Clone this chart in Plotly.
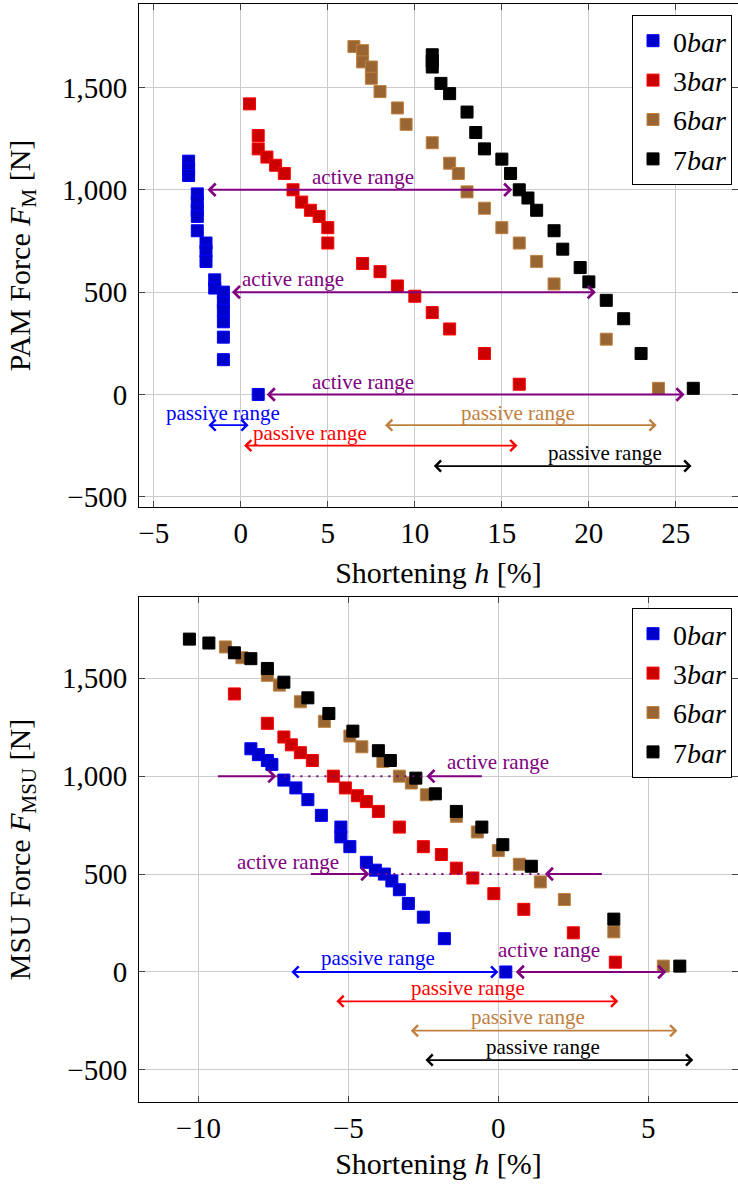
import plotly.graph_objects as go

FONT = "Liberation Serif, Times New Roman, serif"

# ---------------- data: top chart (PAM force vs shortening) ----------------
pam_0bar_h = [-3, -3, -3, -2.5, -2.5, -2.5, -2.5, -2.5, -2, -2, -2, -1.5, -1.5, -1, -1, -1, -1, -1, -1, 1]
pam_0bar_f = [1140, 1100, 1070, 980, 940, 900, 870, 800, 740, 700, 650, 560, 520, 500, 450, 410, 355, 280, 170, 0]

pam_3bar_h = [0.5, 1, 1, 1.5, 2, 2.5, 3, 3.5, 4, 4.5, 5, 5, 7, 8, 9, 10, 11, 12, 14, 16]
pam_3bar_f = [1420, 1265, 1200, 1160, 1120, 1080, 1000, 940, 900, 870, 815, 740, 640, 600, 530, 480, 400, 320, 200, 50]

pam_6bar_h = [6.5, 7, 7, 7.5, 7.5, 8, 9, 9.5, 11, 12, 12.5, 13, 14, 15, 16, 17, 18, 21, 24]
pam_6bar_f = [1700, 1680, 1625, 1600, 1545, 1480, 1400, 1320, 1230, 1130, 1080, 990, 910, 815, 740, 650, 540, 270, 30]

pam_7bar_h = [11, 11, 11, 11.5, 12, 13, 13.5, 14, 15, 15.5, 16, 16.5, 17, 18, 18.5, 19.5, 20, 21, 22, 23, 26]
pam_7bar_f = [1660, 1630, 1600, 1520, 1470, 1380, 1280, 1200, 1150, 1080, 1000, 960, 900, 800, 710, 620, 550, 460, 370, 200, 30]

# ---------------- data: bottom chart (MSU force vs shortening) ----------------
msu_0bar_h = [-8.25, -8.0, -7.7, -7.55, -7.15, -6.75, -6.35, -5.9, -5.25, -5.25, -4.95, -4.4, -4.1, -3.8, -3.55, -3.3, -3.0, -2.5, -1.8, 0.25]
msu_0bar_f = [1140, 1110, 1080, 1060, 980, 940, 880, 800, 740, 690, 640, 560, 520, 500, 465, 420, 350, 280, 170, 0]

msu_3bar_h = [-8.8, -7.7, -7.15, -6.9, -6.6, -6.2, -5.5, -5.1, -4.7, -4.4, -4.0, -3.3, -2.5, -1.9, -1.4, -0.85, -0.15, 0.85, 2.5, 3.9]
msu_3bar_f = [1420, 1270, 1200, 1160, 1120, 1080, 1000, 940, 900, 870, 820, 740, 640, 600, 530, 480, 400, 320, 200, 50]

msu_6bar_h = [-9.1, -8.55, -7.7, -7.3, -6.6, -5.8, -4.95, -4.55, -3.85, -3.3, -2.9, -2.4, -1.4, -0.7, 0.0, 0.7, 1.4, 2.2, 3.85, 5.5]
msu_6bar_f = [1660, 1605, 1515, 1465, 1380, 1280, 1205, 1150, 1075, 1000, 965, 905, 795, 715, 620, 550, 460, 370, 205, 30]

msu_7bar_h = [-10.3, -9.65, -8.8, -8.25, -7.7, -7.15, -6.35, -5.65, -4.85, -4.0, -3.6, -2.75, -2.1, -1.4, -0.55, 0.15, 1.1, 3.85, 6.05]
msu_7bar_f = [1700, 1680, 1630, 1600, 1550, 1480, 1400, 1320, 1230, 1130, 1080, 990, 910, 820, 740, 650, 540, 270, 30]

series_names = ["0<i>bar</i>", "3<i>bar</i>", "6<i>bar</i>", "7<i>bar</i>"]

# ---------------- tick labels ----------------
top_xtick_vals = [-5, 0, 5, 10, 15, 20, 25]
top_xtick_text = ["\u22125", "0", "5", "10", "15", "20", "25"]
bot_xtick_vals = [-10, -5, 0, 5]
bot_xtick_text = ["\u221210", "\u22125", "0", "5"]
ytick_vals = [-500, 0, 500, 1000, 1500]
ytick_text = ["\u2212500", "0", "500", "1,000", "1,500"]

# ---------------- range annotations ----------------
top_active_from = [-2.0, -0.6, 1.4]
top_active_to = [15.6, 20.4, 25.5]
top_active_f = [1000, 500, 0]
top_active_text_h = [7.0, 3.0, 7.0]
top_active_text_f = [1063, 562, 61]
top_passive_from = [-1.95, 0.1, 8.2, 11.0]
top_passive_to = [0.45, 15.9, 23.9, 25.9]
top_passive_f = [-150, -250, -150, -350]
top_passive_text_h = [-1.0, 4.0, 15.95, 20.9]
top_passive_text_f = [-90, -188, -90, -284]

bot_active_left_tail = [-9.4, -6.3]
bot_active_left_head = [-7.4, -4.3]
bot_active_right_head = [-2.4, 1.55]
bot_active_right_tail = [-0.5, 3.5]
bot_active_f = [1000, 500]
bot_active_text_h = [0.0, -7.0]
bot_active_text_f = [1070, 563]
bot_active0_from, bot_active0_to, bot_active0_f = 0.53, 5.6, 0
bot_active0_text_h, bot_active0_text_f = 1.7, 111
bot_passive_from = [-6.95, -5.45, -2.97, -2.48]
bot_passive_to = [0.0, 4.0, 5.97, 6.5]
bot_passive_f = [0, -150, -300, -450]
bot_passive_text_h = [-4.0, -1.0, 1.0, 1.5]
bot_passive_text_f = [70, -84, -230, -384]

# ---------------- styles ----------------
fills = ["#0000cc", "#cc0000", "#996633", "#000000"]
edges = ["#0000ff", "#ff0000", "#bf8040", "#000000"]
passive_colors = ["#0000ff", "#ff0000", "#bf8040", "#000000"]
VIOLET = "#800080"

fig = go.Figure()

top_sets = [(pam_0bar_h, pam_0bar_f), (pam_3bar_h, pam_3bar_f), (pam_6bar_h, pam_6bar_f), (pam_7bar_h, pam_7bar_f)]
bot_sets = [(msu_0bar_h, msu_0bar_f), (msu_3bar_h, msu_3bar_f), (msu_6bar_h, msu_6bar_f), (msu_7bar_h, msu_7bar_f)]

for i, (hx, fy) in enumerate(top_sets):
    fig.add_trace(go.Scatter(
        x=hx, y=fy, mode="markers", name=series_names[i],
        marker=dict(symbol="square", size=12, color=fills[i], line=dict(color=edges[i], width=1)),
        xaxis="x", yaxis="y", legend="legend"))
for i, (hx, fy) in enumerate(bot_sets):
    fig.add_trace(go.Scatter(
        x=hx, y=fy, mode="markers", name=series_names[i],
        marker=dict(symbol="square", size=12, color=fills[i], line=dict(color=edges[i], width=1)),
        xaxis="x2", yaxis="y2", legend="legend2"))


def arrow(x0, x1, y, color, xr, yr, both=True, width=1.8):
    fig.add_annotation(
        x=x1, y=y, ax=x0, ay=y, xref=xr, yref=yr, axref=xr, ayref=yr,
        text="", showarrow=True, arrowhead=4, startarrowhead=4,
        arrowside="end+start" if both else "end",
        arrowsize=1.2, startarrowsize=1.2, arrowwidth=width, arrowcolor=color,
        standoff=0, startstandoff=0)


def label(x, y, txt, color, xr, yr):
    fig.add_annotation(x=x, y=y, xref=xr, yref=yr, text=txt, showarrow=False,
                       font=dict(family=FONT, size=21, color=color),
                       xanchor="center", yanchor="middle")


for a, b, f, tx, ty in zip(top_active_from, top_active_to, top_active_f, top_active_text_h, top_active_text_f):
    arrow(a, b, f, VIOLET, "x", "y", both=True, width=2)
    label(tx, ty, "active range", VIOLET, "x", "y")
for a, b, f, tx, ty, c in zip(top_passive_from, top_passive_to, top_passive_f, top_passive_text_h, top_passive_text_f, passive_colors):
    arrow(a, b, f, c, "x", "y", both=True)
    label(tx, ty, "passive range", c, "x", "y")

for lt, lh, rh, rt, f, tx, ty in zip(bot_active_left_tail, bot_active_left_head, bot_active_right_head,
                                      bot_active_right_tail, bot_active_f, bot_active_text_h, bot_active_text_f):
    arrow(lt, lh, f, VIOLET, "x2", "y2", both=False, width=2)
    arrow(rt, rh, f, VIOLET, "x2", "y2", both=False, width=2)
    fig.add_shape(type="line", x0=lh, x1=rh, y0=f, y1=f, xref="x2", yref="y2",
                  line=dict(color=VIOLET, width=2, dash="2px,6px"))
    label(tx, ty, "active range", VIOLET, "x2", "y2")
arrow(bot_active0_from, bot_active0_to, bot_active0_f, VIOLET, "x2", "y2", both=True, width=2)
label(bot_active0_text_h, bot_active0_text_f, "active range", VIOLET, "x2", "y2")
for a, b, f, tx, ty, c in zip(bot_passive_from, bot_passive_to, bot_passive_f, bot_passive_text_h, bot_passive_text_f, passive_colors):
    arrow(a, b, f, c, "x2", "y2", both=True)
    label(tx, ty, "passive range", c, "x2", "y2")

axis_common = dict(
    showline=True, linecolor="black", linewidth=1, mirror="ticks",
    ticks="inside", ticklen=6, tickcolor="#444444", tickwidth=1,
    showgrid=True, gridcolor="#cccccc", gridwidth=1, zeroline=False,
    tickfont=dict(family=FONT, size=29, color="black"), automargin=False,
)
title_font = dict(family=FONT, size=30, color="black")

W_TOTAL, H_TOTAL = 738, 1185
M_T, M_B, M_L, M_R = 4, 83, 139, 0
plot_h = H_TOTAL - M_T - M_B
plot_w = W_TOTAL - M_L - M_R


def py(px):
    return (H_TOTAL - M_B - px) / plot_h


def pxx(px):
    return (px - M_L) / plot_w


fig.update_layout(
    width=W_TOTAL, height=H_TOTAL,
    margin=dict(l=M_L, r=M_R, t=M_T, b=M_B),
    paper_bgcolor="white", plot_bgcolor="white",
    font=dict(family=FONT, color="black"),
    xaxis=dict(axis_common, domain=[0, 1], anchor="y", range=[-5.85, 28.57],
               tickvals=top_xtick_vals, ticktext=top_xtick_text,
               title=dict(text="Shortening <i>h</i> [%]", font=title_font, standoff=14)),
    yaxis=dict(axis_common, domain=[py(507), 1], anchor="x", range=[-550, 1908],
               tickvals=ytick_vals, ticktext=ytick_text, ticklabelstandoff=5,
               title=dict(text="PAM Force <i>F</i><sub>M</sub> [N]", font=title_font, standoff=22)),
    xaxis2=dict(axis_common, domain=[0, 1], anchor="y2", range=[-11.98, 7.99],
                tickvals=bot_xtick_vals, ticktext=bot_xtick_text,
                title=dict(text="Shortening <i>h</i> [%]", font=title_font, standoff=10)),
    yaxis2=dict(axis_common, domain=[0, py(597)], anchor="x2", range=[-664, 1915],
                tickvals=ytick_vals, ticktext=ytick_text, ticklabelstandoff=5,
                title=dict(text="MSU Force <i>F</i><sub>MSU</sub> [N]", font=title_font, standoff=22)),
    legend=dict(x=pxx(732), y=py(15), xanchor="right", yanchor="top",
                bgcolor="white", bordercolor="black", borderwidth=1,
                font=dict(family=FONT, size=28, color="black"), itemsizing="trace"),
    legend2=dict(x=pxx(732), y=py(608), xanchor="right", yanchor="top",
                 bgcolor="white", bordercolor="black", borderwidth=1,
                 font=dict(family=FONT, size=28, color="black"), itemsizing="trace"),
)

fig.write_html("out.html", config={"displayModeBar": False},
               post_script="document.body.style.margin='0px';")
